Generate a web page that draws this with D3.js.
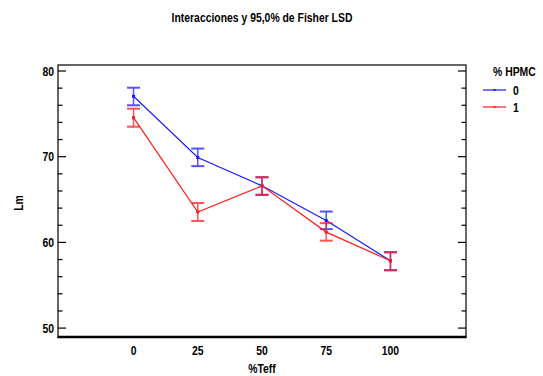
<!DOCTYPE html>
<html>
<head>
<meta charset="utf-8">
<script src="https://cdn.jsdelivr.net/npm/d3@7"></script>
<style>
  body { margin: 0; background: #fff; }
  svg text { font-family: "Liberation Sans", Arial, sans-serif; font-weight: bold; font-size: 13px; }
</style>
</head>
<body>
<svg id="chart" width="543" height="376"></svg>
<script>
// categorias del eje x (%Teff)
const teff = ["0", "25", "50", "75", "100"];
const seriesNames = ["0", "1"];
// medias de Lm por nivel de HPMC
const means0 = [77.05, 69.9, 66.6, 62.55, 57.85];
const means1 = [74.55, 63.55, 66.6, 61.2, 57.85];
// intervalos LSD 95%
const lower0 = [76.0, 68.9, 65.55, 61.55, 56.75];
const upper0 = [78.05, 70.95, 67.6, 63.6, 58.85];
const lower1 = [73.5, 62.5, 65.55, 60.2, 56.75];
const upper1 = [75.6, 64.6, 67.6, 62.25, 58.85];
const yTicks = [50, 60, 70, 80];

const svg = d3.select("#chart");
const plotL = 58, plotR = 466, plotT = 65, plotB = 337;

const x = d3.scalePoint().domain(teff).range([plotL, plotR]).padding(1.176);
const y = d3.scaleLinear().domain([48.96, 80.7]).range([plotB, plotT]);

const series = [
  { name: seriesNames[0], color: "#1a1aff", means: means0, lo: lower0, hi: upper0 },
  { name: seriesNames[1], color: "#ff1a1a", means: means1, lo: lower1, hi: upper1 }
];

// texto condensado (la fuente original es tipo "narrow")
function label(px, py, txt, anchor, rot) {
  return svg.append("text")
    .attr("transform", `translate(${px},${py})` + (rot ? ` rotate(${rot})` : "") + " scale(0.8,1)")
    .attr("text-anchor", anchor || "start")
    .text(txt);
}

label(262, 22, "Interacciones y 95,0% de Fisher LSD", "middle");

// marco
svg.append("rect").attr("x", plotL).attr("y", plotT).attr("width", plotR - plotL).attr("height", plotB - plotT)
  .attr("fill", "none").attr("stroke", "#000").attr("stroke-width", 1.2);
svg.append("line").attr("x1", plotL - 0.5).attr("x2", plotR + 0.5).attr("y1", plotB).attr("y2", plotB)
  .attr("stroke", "#000").attr("stroke-width", 2.5);

// ticks del eje y (mayores cada 10, menores cada 2)
const minor = d3.range(50, 81, 2);
const tickG = svg.append("g").attr("stroke", "#000").attr("stroke-width", 1.2);
minor.forEach(v => {
  const len = v % 10 === 0 ? 8 : 4.5;
  tickG.append("line").attr("x1", plotL).attr("x2", plotL + len).attr("y1", y(v)).attr("y2", y(v));
  tickG.append("line").attr("x1", plotR).attr("x2", plotR - len).attr("y1", y(v)).attr("y2", y(v));
});
yTicks.forEach(v => label(plotL - 4, y(v) + 4.7, v, "end"));

// etiquetas del eje x
teff.forEach(t => label(x(t), 355, t, "middle"));
label(262, 373, "%Teff", "middle");
label(23, 203, "Lm", "middle", -90);

// series
const line = d3.line().x((d, i) => x(teff[i])).y(d => y(d));
series.forEach(s => {
  const g = svg.append("g");
  g.append("path").attr("d", line(s.means)).attr("fill", "none")
    .attr("stroke", s.color).attr("stroke-width", 1.2);
  teff.forEach((t, i) => {
    const cx = x(t);
    const eb = g.append("g").attr("stroke", s.color).attr("opacity", 0.75);
    eb.append("line").attr("x1", cx).attr("x2", cx).attr("y1", y(s.lo[i])).attr("y2", y(s.hi[i]))
      .attr("stroke-width", 1.5);
    [s.lo[i], s.hi[i]].forEach(v => {
      eb.append("line").attr("x1", cx - 6.5).attr("x2", cx + 6.5).attr("y1", y(v)).attr("y2", y(v))
        .attr("stroke-width", 2);
    });
    g.append("rect").attr("x", cx - 1.5).attr("y", y(s.means[i]) - 1.5).attr("width", 3).attr("height", 3)
      .attr("fill", s.color);
  });
});

// leyenda
label(493, 76, "% HPMC");
series.forEach((s, i) => {
  const ly = 90 + i * 17;
  svg.append("line").attr("x1", 483).attr("x2", 506).attr("y1", ly).attr("y2", ly)
    .attr("stroke", s.color).attr("stroke-width", 1.5).attr("opacity", 0.8);
  svg.append("rect").attr("x", 493.5).attr("y", ly - 1).attr("width", 2).attr("height", 2).attr("fill", s.color);
  label(513, ly + 4.7, s.name);
});
</script>
</body>
</html>
